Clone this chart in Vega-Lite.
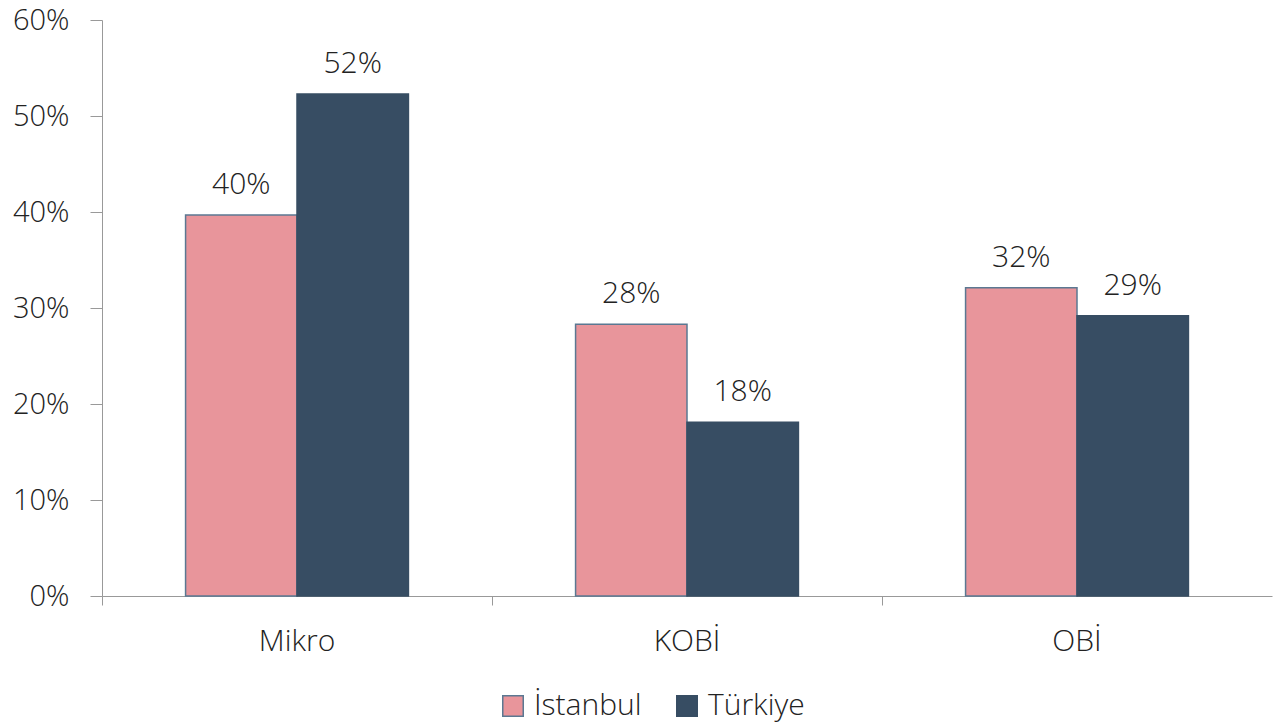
{
  "$schema": "https://vega.github.io/schema/vega-lite/v6.json",
  "width": 1170,
  "height": 576,
  "autosize": {"type": "none"},
  "padding": {"left": 102, "top": 20, "right": 13, "bottom": 128},
  "background": "white",
  "config": {
    "view": {"stroke": null},
    "font": "Open Sans",
    "text": {"font": "Open Sans"}
  },
  "data": {
    "values": [
      {"kategori": "Mikro", "bolge": "İstanbul", "oran": 0.397},
      {"kategori": "Mikro", "bolge": "Türkiye", "oran": 0.523},
      {"kategori": "KOBİ", "bolge": "İstanbul", "oran": 0.283},
      {"kategori": "KOBİ", "bolge": "Türkiye", "oran": 0.181},
      {"kategori": "OBİ", "bolge": "İstanbul", "oran": 0.321},
      {"kategori": "OBİ", "bolge": "Türkiye", "oran": 0.292}
    ]
  },
  "encoding": {
    "x": {
      "field": "kategori", "type": "nominal", "sort": ["Mikro", "KOBİ", "OBİ"],
      "scale": {"paddingInner": 0, "paddingOuter": 0},
      "axis": {
        "title": null, "labelAngle": 0, "labelFontSize": 30, "labelFont": "Open Sans", "labelFontWeight": 300,
        "labelColor": "#222", "labelPadding": 21, "tickSize": 9, "tickColor": "#999", "domainColor": "#999",
        "bandPosition": 0, "ticks": true, "grid": false
      }
    },
    "xOffset": {"field": "bolge", "type": "nominal", "sort": ["İstanbul", "Türkiye"], "scale": {"paddingOuter": 0.75, "paddingInner": 0}},
    "y": {
      "field": "oran", "type": "quantitative",
      "scale": {"domain": [0, 0.6]},
      "axis": {
        "title": null, "format": ".0%", "values": [0, 0.1, 0.2, 0.3, 0.4, 0.5, 0.6], "grid": false,
        "labelFontSize": 29, "labelFont": "Open Sans", "labelFontWeight": 300, "labelColor": "#222",
        "labelPadding": 21, "tickSize": 12, "tickColor": "#999", "domainColor": "#999"
      }
    }
  },
  "layer": [
    {
      "mark": {"type": "bar", "strokeWidth": 1.5},
      "encoding": {
        "color": {
          "field": "bolge", "type": "nominal", "sort": ["İstanbul", "Türkiye"],
          "scale": {"domain": ["İstanbul", "Türkiye"], "range": ["#E8959B", "#374D63"]},
          "legend": {
            "title": null, "orient": "none", "direction": "horizontal", "legendX": 396, "legendY": 671,
            "symbolType": "square", "symbolSize": 420, "symbolStrokeColor": "#4a6a8a", "symbolStrokeWidth": 1.5,
            "labelFontSize": 30, "labelFont": "Open Sans", "labelFontWeight": 300, "labelColor": "#222",
            "columnPadding": 30, "labelOffset": 6
          }
        },
        "stroke": {
          "field": "bolge", "type": "nominal",
          "scale": {"domain": ["İstanbul", "Türkiye"], "range": ["#5b7892", "#374D63"]},
          "legend": null
        }
      }
    },
    {
      "mark": {"type": "text", "baseline": "bottom", "dy": -15, "fontSize": 30, "fontWeight": 300, "color": "#222"},
      "encoding": {
        "text": {"field": "oran", "type": "quantitative", "format": ".0%"}
      }
    }
  ]
}
